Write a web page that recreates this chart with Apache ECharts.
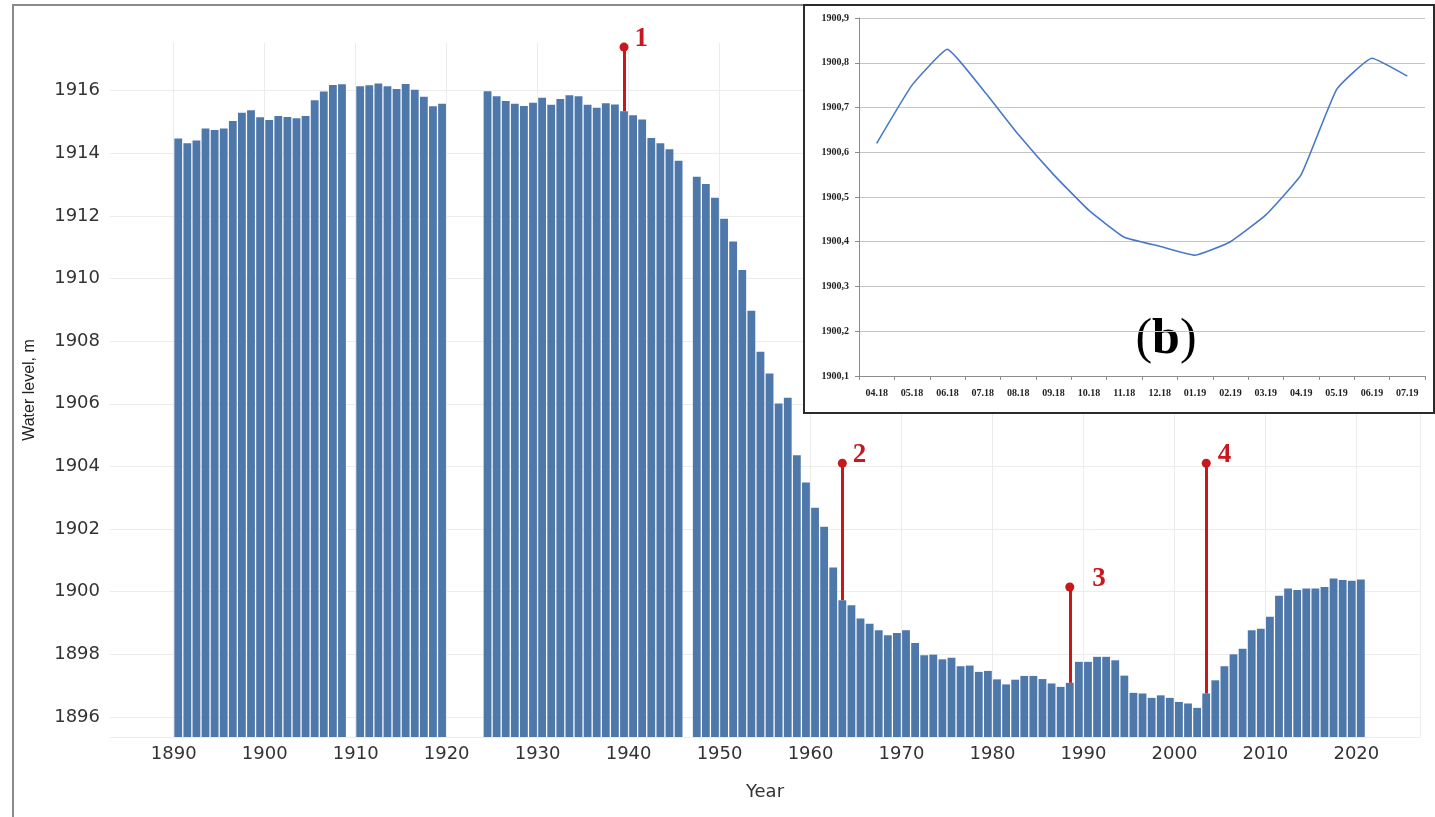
<!DOCTYPE html>
<html>
<head>
<meta charset="utf-8">
<script src="https://cdn.jsdelivr.net/npm/echarts@6.0.0/dist/echarts.min.js"></script>
<style>
html, body { margin: 0; padding: 0; background: #fff; }
#main { position: absolute; left: 0; top: 0; width: 1435px; height: 817px; }
#inset { position: absolute; left: 803px; top: 4px; width: 632px; height: 410px;
         box-sizing: border-box; border: 2px solid #2b2b2b; background: #fff; }
</style>
</head>
<body>
<div id="main"></div>
<div id="inset"></div>
<script>
// annual water level, 1890..2020 (null = no data)
var firstYear = 1890;
var levels = [
    1914.47, 1914.32, 1914.41, 1914.79, 1914.74, 1914.79, 1915.03, 1915.29, 1915.37, 1915.15,
    1915.06, 1915.19, 1915.16, 1915.12, 1915.19, 1915.69, 1915.97, 1916.18, 1916.20, null,
    1916.14, 1916.17, 1916.23, 1916.14, 1916.05, 1916.21, 1916.03, 1915.80, 1915.50, 1915.58,
    null, null, null, null, 1915.98, 1915.82, 1915.67, 1915.58, 1915.51, 1915.61,
    1915.77, 1915.55, 1915.73, 1915.85, 1915.82, 1915.55, 1915.45, 1915.60, 1915.56, 1915.34,
    1915.21, 1915.08, 1914.49, 1914.32, 1914.13, 1913.76, null, 1913.25, 1913.02, 1912.58,
    1911.91, 1911.18, 1910.27, 1908.97, 1907.66, 1906.97, 1906.01, 1906.19, 1904.36, 1903.49,
    1902.68, 1902.07, 1900.77, 1899.73, 1899.57, 1899.14, 1898.98, 1898.77, 1898.61, 1898.68,
    1898.77, 1898.36, 1897.97, 1897.99, 1897.84, 1897.89, 1897.62, 1897.64, 1897.44, 1897.47,
    1897.20, 1897.04, 1897.19, 1897.31, 1897.31, 1897.21, 1897.07, 1896.96, 1897.09, 1897.76,
    1897.76, 1897.92, 1897.92, 1897.81, 1897.32, 1896.77, 1896.75, 1896.61, 1896.69, 1896.61,
    1896.48, 1896.43, 1896.29, 1896.75, 1897.17, 1897.62, 1898.00, 1898.18, 1898.77, 1898.82,
    1899.20, 1899.87, 1900.10, 1900.05, 1900.10, 1900.10, 1900.15, 1900.42, 1900.37, 1900.35,
    1900.39
];

// red markers
var markYears = [1939, 1963, 1988, 2003];
var markTops = [1917.39, 1904.1, 1900.15, 1904.1];
var markNames = ['1', '2', '3', '4'];
var markOffsets = [[2, -8], [2, -8], [14, -8], [3, -8]];

// inset (b)
var months = ['04.18', '05.18', '06.18', '07.18', '08.18', '09.18', '10.18', '11.18',
              '12.18', '01.19', '02.19', '03.19', '04.19', '05.19', '06.19', '07.19'];
var monthly = [1900.62, 1900.75, 1900.83, 1900.74, 1900.64, 1900.55, 1900.47, 1900.41,
               1900.39, 1900.37, 1900.40, 1900.46, 1900.55, 1900.74, 1900.81, 1900.77];

var red = '#c9171e';

function initMain() {
    var myChart = echarts.init(document.getElementById('main'));
    var cats = [];
    for (var y = 1883; y <= 2026; y++) cats.push(String(y));
    var barData = cats.map(function (c) {
        var i = +c - firstYear;
        return (i >= 0 && i < levels.length) ? levels[i] : null;
    });
    var lines = markYears.map(function (yr, i) {
        return [{coord: [String(yr), levels[yr - firstYear]]}, {coord: [String(yr), markTops[i]]}];
    });
    var points = markYears.map(function (yr, i) {
        return {
            name: markNames[i],
            coord: [String(yr), markTops[i]],
            label: {offset: markOffsets[i]}
        };
    });
    var decade = function (index, value) { return (+value) % 10 === 0; };

    var option = {
        animation: false,
        grid: {left: 110, right: 15, top: 43, bottom: 80},
        xAxis: {
            type: 'category',
            data: cats,
            name: 'Year',
            nameLocation: 'middle',
            nameGap: 46,
            nameTextStyle: {fontFamily: 'DejaVu Sans', fontSize: 18, color: '#333'},
            axisLine: {show: false},
            axisTick: {show: false},
            axisLabel: {
                interval: decade,
                fontFamily: 'DejaVu Sans',
                fontSize: 18,
                color: '#333',
                margin: 8,
                padding: [0, 9, 0, 0]
            },
            splitLine: {show: true, interval: decade, lineStyle: {color: '#ececec'}}
        },
        yAxis: {
            type: 'value',
            min: 1895.36,
            max: 1917.52,
            splitNumber: 11,
            name: 'Water level, m',
            nameLocation: 'middle',
            nameRotate: 90,
            nameGap: 72,
            nameTextStyle: {fontFamily: 'Liberation Sans', fontSize: 16, color: '#222'},
            axisLine: {show: false},
            axisTick: {show: false},
            axisLabel: {
                showMinLabel: false,
                showMaxLabel: false,
                fontFamily: 'DejaVu Sans',
                fontSize: 18,
                color: '#333',
                margin: 10,
                formatter: function (v) { return String(Math.round(v)); }
            },
            splitLine: {show: true, showMaxLine: false, lineStyle: {color: '#ececec'}}
        },
        series: [{
            type: 'bar',
            data: barData,
            barCategoryGap: '14%',
            itemStyle: {color: '#4e78aa'},
            markLine: {
                silent: true,
                symbol: 'none',
                label: {show: false},
                lineStyle: {color: red, width: 3, type: 'solid'},
                data: lines
            },
            markPoint: {
                silent: true,
                symbol: 'circle',
                symbolSize: 9,
                itemStyle: {color: red},
                label: {
                    show: true,
                    position: 'right',
                    distance: 4,
                    formatter: '{b}',
                    color: red,
                    fontFamily: 'Liberation Serif',
                    fontWeight: 'bold',
                    fontSize: 27
                },
                data: points
            }
        }],
        graphic: [{
            type: 'rect',
            shape: {x: 13, y: 5, width: 1460, height: 860},
            style: {fill: 'none', stroke: '#8a8a8a', lineWidth: 2},
            silent: true
        }]
    };
    myChart.setOption(option);
}

function initInset() {
    var myChart = echarts.init(document.getElementById('inset'));
    var small = {fontFamily: 'Liberation Serif', fontWeight: 'bold', fontSize: 10, color: '#222'};
    var option = {
        animation: false,
        grid: {left: 54, right: 8, top: 12, bottom: 36},
        xAxis: {
            type: 'category',
            data: months,
            axisLine: {lineStyle: {color: '#8c8c8c'}},
            axisTick: {show: true, length: 4, lineStyle: {color: '#8c8c8c'}},
            axisLabel: Object.assign({interval: 0, margin: 12}, small)
        },
        yAxis: {
            type: 'value',
            min: 1900.1,
            max: 1900.9,
            interval: 0.1,
            axisLine: {show: true, lineStyle: {color: '#8c8c8c'}},
            axisTick: {show: true, length: 4, lineStyle: {color: '#8c8c8c'}},
            axisLabel: Object.assign({
                margin: 10,
                formatter: function (v) { return v.toFixed(1).replace('.', ','); }
            }, small),
            splitLine: {lineStyle: {color: '#c4c4c4'}}
        },
        series: [{
            type: 'line',
            data: monthly,
            smooth: 0.12,
            symbol: 'none',
            lineStyle: {color: '#4a78c8', width: 1.6}
        }],
        graphic: [{
            type: 'text',
            x: 361,
            y: 334,
            style: {
                text: '{p|(}{b|b}{p|)}',
                align: 'center',
                verticalAlign: 'middle',
                rich: {
                    p: {fontFamily: 'Liberation Serif', fontSize: 50, color: '#111'},
                    b: {fontFamily: 'Liberation Serif', fontSize: 50, fontWeight: 'bold', color: '#111'}
                }
            }
        }]
    };
    myChart.setOption(option);
}

initMain();
initInset();
</script>
</body>
</html>
